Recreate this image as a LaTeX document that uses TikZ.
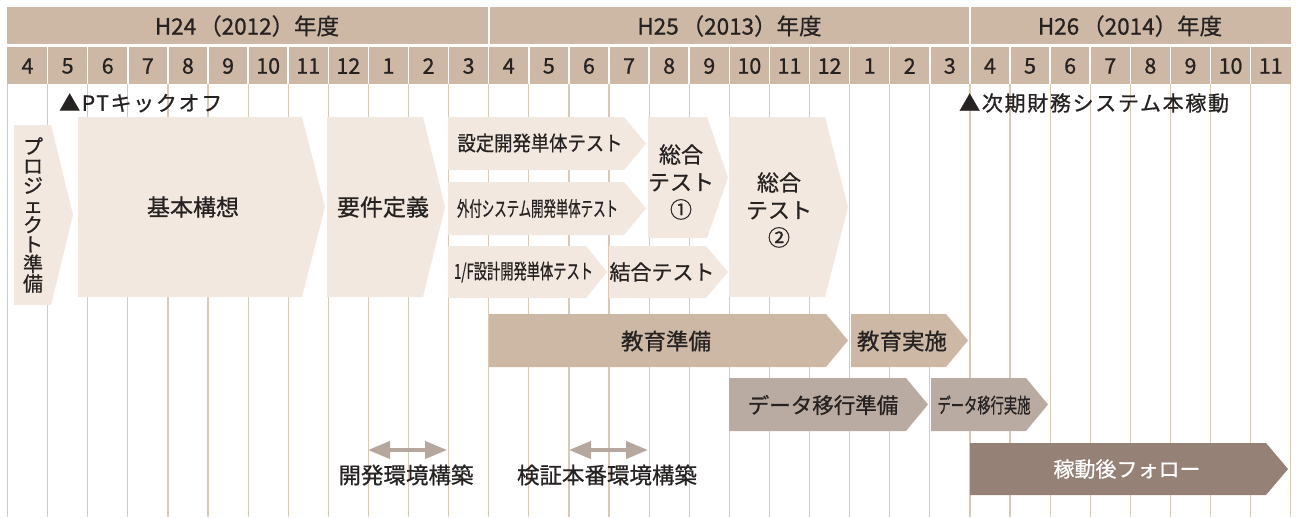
\documentclass[tikz,border=0pt]{standalone}
\usepackage{fontspec}
\setmainfont{Noto Sans CJK JP}[FakeBold=0.8]
\usepackage{graphicx}
\usetikzlibrary{arrows.meta}
\definecolor{hdr}{HTML}{CDB8A5}
\definecolor{lightbox}{HTML}{F2E8DF}
\definecolor{edu}{HTML}{CDB8A5}
\definecolor{dat}{HTML}{B9ABA1}
\definecolor{fol}{HTML}{958176}
\definecolor{gridc}{HTML}{DCC8B5}
\definecolor{arr}{HTML}{B5A79D}
\definecolor{txt}{HTML}{262222}
\newcommand\chev[6]{\fill[#1] (#2,#3) -- (#4,#3) -- (#5,{(#3+#6)/2}) -- (#4,#6) -- (#2,#6) -- cycle;}
\newcommand\fs[1]{\fontsize{#1}{#1}\selectfont}
\begin{document}
\begin{tikzpicture}[x=1pt,y=-1pt,
  gridline/.style={draw=gridc,line width=1.2pt},
  month/.style={text=txt,font=\fs{21.5},inner sep=0pt},
  year/.style={text=txt,font=\fs{22.5},inner sep=0pt},
  lbl/.style={text=txt,font=\fs{22.5},inner sep=0pt,align=center},
  slbl/.style={text=txt,font=\fs{20.5},inner sep=0pt,align=center},
  ms/.style={text=txt,font=\fs{21}\addfontfeature{LetterSpace=8},inner sep=0pt,anchor=west},
  envarrow/.style={draw=arr,line width=4pt,{Triangle[length=22pt,width=17pt]}-{Triangle[length=22pt,width=17pt]}}]
\useasboundingbox (0,0) rectangle (1299,517);
\fill[white] (0,0) rectangle (1299,517);
% grid
\foreach \i in {0,...,32}{\draw[gridline] ({7.5+40.1*\i},84) -- ({7.5+40.1*\i},517);}
% header
\fill[hdr] (7,7) rectangle (1290.7,44);
\fill[hdr] (7,47) rectangle (1290.7,84);
\foreach \i in {1,...,31}{\draw[white,line width=1.5pt] ({7.5+40.1*\i},47) -- ({7.5+40.1*\i},84);}
\foreach \i in {12,24}{\draw[white,line width=2pt] ({7.5+40.1*\i},7) -- ({7.5+40.1*\i},44);}
\node[year] (y24) at (247,26) {H24\hspace{3pt}（2012）年度};
\node[year] (y25) at (729.5,26) {H25\hspace{3pt}（2013）年度};
\node[year] (y26) at (1130,26) {H26\hspace{3pt}（2014）年度};
\foreach \m [count=\i from 0] in {4,5,6,7,8,9,10,11,12,1,2,3,4,5,6,7,8,9,10,11,12,1,2,3,4,5,6,7,8,9,10,11}
  {\node[month] (m\i) at ({7.5+40.1*\i+20.05},66) {\m};}
% milestones
\node[ms] (kick) at (59,103) {▲PTキックオフ};
\node[ms] (golive) at (959,103) {▲次期財務システム本稼動};
% bars
\chev{lightbox}{14}{125}{51}{73}{305}
\chev{lightbox}{78}{117}{302}{325}{297}
\chev{lightbox}{327}{117}{423}{445}{297}
\chev{lightbox}{448}{117}{624}{646}{170}
\chev{lightbox}{448}{182}{624}{646}{235}
\chev{lightbox}{448}{246}{586}{607}{298}
\chev{lightbox}{609}{246}{706}{728}{298}
\chev{lightbox}{648}{117}{707}{728}{238}
\chev{lightbox}{729}{117}{825}{848}{297}
\chev{edu}{489}{314}{826}{848}{367}
\chev{edu}{851}{314}{946}{968}{367}
\chev{dat}{729}{378}{906}{928}{431}
\chev{dat}{931}{378}{1026}{1048}{431}
\chev{fol}{970}{443}{1266}{1288}{495}
% bar labels
\node[slbl,font=\fontsize{20}{19.6}\selectfont] (prep) at (33,215) {プ\\ロ\\ジ\\ェ\\ク\\ト\\準\\備};
\node[lbl,font=\fs{23}] (kihon) at (193,207) {基本構想};
\node[lbl,font=\fs{23}] (yoken) at (383,207) {要件定義};
\node[slbl] (settei) at (540,143) {\resizebox{165pt}{\height}{設定開発単体テスト}};
\node[slbl] (sotsuke) at (537.5,208.5) {\resizebox{161pt}{\height}{外付システム開発単体テスト}};
\node[slbl] (iftest) at (523.5,272) {\resizebox{139pt}{\height}{1/F設計開発単体テスト}};
\node[lbl,font=\fs{21}] (ketsugo) at (662,272) {結合テスト};
\node[lbl,font=\fontsize{22}{27.5}\selectfont] (sogo1) at (681,182) {総合\\テスト\\①};
\node[lbl,font=\fontsize{22}{27.5}\selectfont] (sogo2) at (779,210) {総合\\テスト\\②};
\node[lbl] (edujun) at (666,341) {教育準備};
\node[lbl] (edujis) at (902,341) {教育実施};
\node[lbl,font=\fs{21.5}] (datjun) at (823,405) {データ移行準備};
\node[slbl] (datjis) at (984,405) {\resizebox{93pt}{\height}{データ移行実施}};
\node[lbl,text=white,font=\fs{21}] (follow) at (1127,469) {稼動後フォロー};
% environment arrows
\coordinate (a1s) at (368,450);
\coordinate (a1e) at (447,450);
\coordinate (a2s) at (569,450);
\coordinate (a2e) at (648,450);
\draw[envarrow] (a1s) -- (a1e);
\draw[envarrow] (a2s) -- (a2e);
\node[lbl] (env1) at (406,475) {開発環境構築};
\node[lbl] (env2) at (607,475) {検証本番環境構築};
\end{tikzpicture}
\end{document}
